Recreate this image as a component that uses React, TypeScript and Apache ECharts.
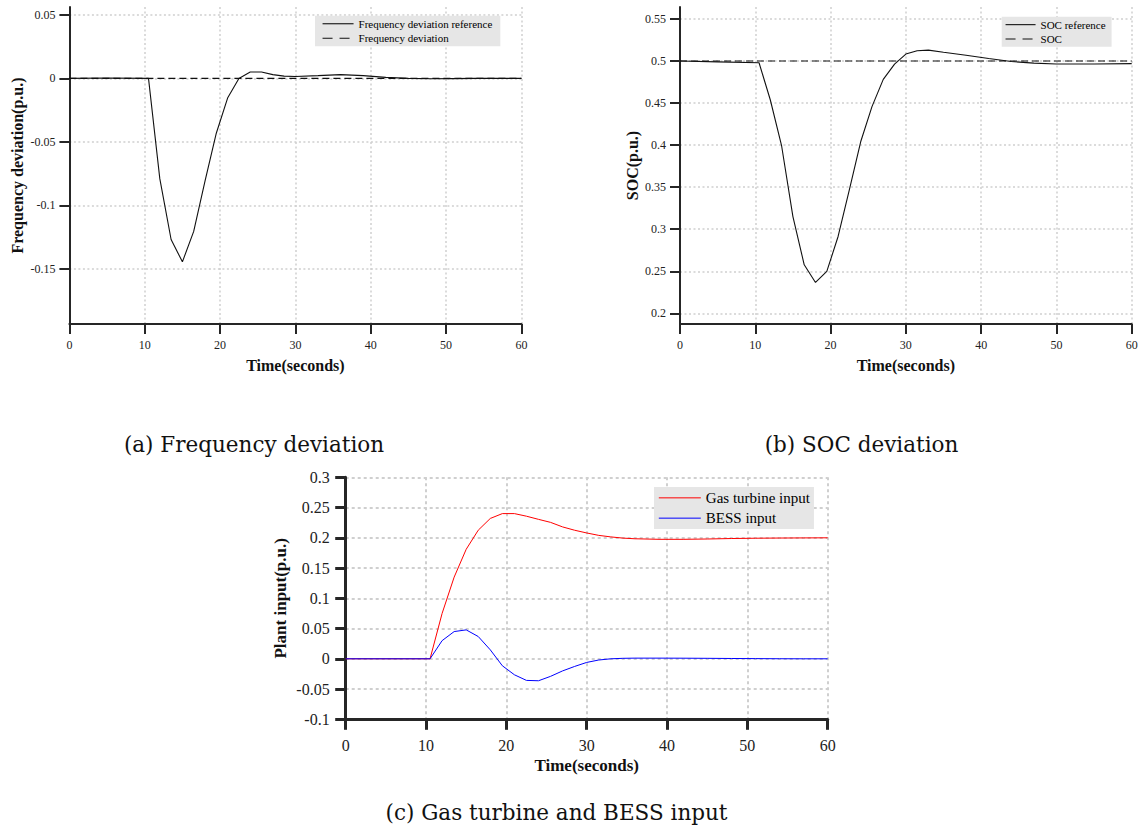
import React, { useEffect, useRef } from "react";
import * as echarts from "echarts";

// ---------- data ----------
const timeTicks = [0, 10, 20, 30, 40, 50, 60];
const freqTicks = [-0.15, -0.1, -0.05, 0, 0.05];
const socTicks = [0.2, 0.25, 0.3, 0.35, 0.4, 0.45, 0.5, 0.55];

const freqRefTime = [0, 5, 10.5, 12, 13.5, 15, 16.5, 18, 19.5, 21, 22.5, 24, 25.5, 27, 28.5, 30, 33, 36, 39, 42, 45, 48, 51, 54, 60];
const freqRefValue = [0, 0.0003, 0, -0.079, -0.127, -0.1446, -0.1206, -0.081, -0.0432, -0.0155, 0, 0.005, 0.005, 0.003, 0.0018, 0.0015, 0.0022, 0.003, 0.0022, 0.0008, 0, -0.0003, -0.0002, 0, 0];
const freqTime = [0, 60];
const freqValue = [0, 0];

const socRefTime = [0, 5, 10.5, 12, 13.5, 15, 16.5, 18, 19.5, 21, 22.5, 24, 25.5, 27, 28.5, 30, 31.5, 33, 35, 38, 41, 44, 47, 50, 55, 60];
const socRefValue = [0.5, 0.499, 0.498, 0.4537, 0.399, 0.315, 0.2577, 0.2367, 0.2498, 0.2914, 0.347, 0.404, 0.4458, 0.4782, 0.4964, 0.5083, 0.5123, 0.513, 0.5105, 0.507, 0.503, 0.4995, 0.4975, 0.4965, 0.4965, 0.497];
const socTime = [0, 60];
const socValue = [0.5, 0.5];

const plantTime = [0, 10.5, 12, 13.5, 15, 16.5, 18, 19.5, 21, 22.5, 24, 25.5, 27, 28.5, 30, 31.5, 33, 34.5, 36, 39, 42, 45, 48, 51, 54, 57, 60];
const gasTurbine = [0, 0, 0.075, 0.135, 0.181, 0.2126, 0.232, 0.24, 0.24, 0.2357, 0.2305, 0.2255, 0.218, 0.2125, 0.208, 0.204, 0.2015, 0.1995, 0.1984, 0.1975, 0.1975, 0.198, 0.1988, 0.1993, 0.1996, 0.1998, 0.2];
const bess = [0, 0, 0.03, 0.045, 0.0478, 0.0368, 0.0148, -0.0115, -0.0264, -0.0357, -0.0363, -0.029, -0.02, -0.0126, -0.006, -0.002, 0, 0.0008, 0.0011, 0.0011, 0.001, 0.0008, 0.0005, 0.0003, 0.0001, 0, 0];

const captions = ["(a) Frequency deviation", "(b) SOC deviation", "(c) Gas turbine and BESS input"];

const zip = (t: number[], v: number[]) => t.map((x, i) => [x, v[i]]);

const SERIF = "'Liberation Serif', 'Times New Roman', serif";
const AXIS = "#262626";

function xAxisCfg(gridIndex: number, big: boolean) {
  return {
    type: "value",
    gridIndex,
    min: 0,
    max: 60,
    interval: 10,
    name: "Time(seconds)",
    nameLocation: "middle",
    nameGap: big ? 38 : 33,
    nameTextStyle: { fontFamily: SERIF, fontWeight: "bold", fontSize: big ? 17 : 16, color: "#111" },
    axisLine: { show: true, onZero: false, lineStyle: { color: AXIS, width: big ? 3 : 2 } },
    axisTick: { show: true, inside: false, length: big ? 10.5 : 10, lineStyle: { color: AXIS, width: big ? 3 : 2 } },
    axisLabel: { margin: big ? 18 : 15, fontFamily: SERIF, fontSize: big ? 16 : 12, color: "#222", customValues: timeTicks },
    splitLine: { show: true, lineStyle: { color: "#cfcfcf", width: big ? 2 : 1.5, type: big ? [3, 3] : [2, 2.5] } },
  };
}

function yAxisCfg(gridIndex: number, name: string, min: number, max: number, ticks: number[] | null, big: boolean, nameGap: number) {
  const base: any = {
    type: "value",
    gridIndex,
    min,
    max,
    name,
    nameLocation: "middle",
    nameGap,
    nameTextStyle: { fontFamily: SERIF, fontWeight: "bold", fontSize: big ? 17 : 16, color: "#111" },
    axisLine: { show: true, onZero: false, lineStyle: { color: AXIS, width: big ? 3 : 2 } },
    axisTick: { show: true, inside: false, length: big ? 10.5 : 10, lineStyle: { color: AXIS, width: big ? 3 : 2 } },
    axisLabel: { margin: big ? 16 : 14, fontFamily: SERIF, fontSize: big ? 16 : 12, color: "#222" },
    splitLine: { show: true, lineStyle: { color: "#cfcfcf", width: big ? 2 : 1.5, type: big ? [3, 3] : [2, 2.5] } },
  };
  if (ticks) {
    base.axisLabel.customValues = ticks;
    base.axisTick.customValues = ticks;
  } else {
    base.interval = 0.05;
  }
  return base;
}

export default function App() {
  const ref = useRef<HTMLDivElement>(null);
  useEffect(() => {
    if (!ref.current) return;
    const chart = echarts.init(ref.current, null, { renderer: "svg" });
    const legendText = (size: number, lh: number) => ({ fontFamily: SERIF, fontSize: size, color: "#000", lineHeight: lh });
    const hiddenSymbol = { opacity: 0, borderWidth: 0 };
    const dashedIcon = { type: [10, 7], width: 1.1 };
    chart.setOption({
      animation: false,
      backgroundColor: "#fff",
      grid: [
        { left: 69.4, top: 7, width: 452, height: 317 },
        { left: 680, top: 7, width: 451.7, height: 317 },
        { left: 345.7, top: 477.3, width: 482, height: 242 },
      ],
      xAxis: [xAxisCfg(0, false), xAxisCfg(1, false), xAxisCfg(2, true)],
      yAxis: [
        yAxisCfg(0, "Frequency deviation(p.u.)", -0.1936, 0.0563, freqTicks, false, 44),
        yAxisCfg(1, "SOC(p.u.)", 0.1873, 0.5643, socTicks, false, 40),
        yAxisCfg(2, "Plant input(p.u.)", -0.1, 0.3, null, true, 57),
      ],
      legend: [
        {
          data: [{ name: "Frequency deviation reference" }, { name: "Frequency deviation", lineStyle: dashedIcon }],
          orient: "vertical", left: 315, top: 15.8, itemWidth: 31, itemHeight: 8, itemGap: 0,
          padding: [0.7, 8, 0.7, 7], backgroundColor: "#e6e6e6", selectedMode: false,
          itemStyle: hiddenSymbol, lineStyle: { width: 1.1 },
          textStyle: legendText(11, 14.5),
        },
        {
          data: [{ name: "SOC reference" }, { name: "SOC", lineStyle: dashedIcon }],
          orient: "vertical", left: 1001.7, top: 16.8, itemWidth: 30, itemHeight: 8, itemGap: 0,
          padding: [0.7, 6, 0.7, 3.3], backgroundColor: "#e6e6e6", selectedMode: false,
          itemStyle: hiddenSymbol, lineStyle: { width: 1.1 },
          textStyle: legendText(11, 14.3),
        },
        {
          data: ["Gas turbine input", "BESS input"],
          orient: "vertical", left: 654, top: 487, itemWidth: 42, itemHeight: 10, itemGap: 0,
          padding: [0.7, 4, 0.7, 4.3], backgroundColor: "#e6e6e6", selectedMode: false,
          itemStyle: hiddenSymbol, lineStyle: { width: 1 },
          textStyle: legendText(15, 20.3),
        },
      ],
      series: [
        { name: "Frequency deviation reference", type: "line", xAxisIndex: 0, yAxisIndex: 0, symbol: "none", data: zip(freqRefTime, freqRefValue), lineStyle: { color: "#111", width: 1.1 }, itemStyle: { color: "#111" } },
        { name: "Frequency deviation", type: "line", xAxisIndex: 0, yAxisIndex: 0, symbol: "none", data: zip(freqTime, freqValue), lineStyle: { color: "#111", width: 1.1, type: [7, 4] }, itemStyle: { color: "#111" } },
        { name: "SOC reference", type: "line", xAxisIndex: 1, yAxisIndex: 1, symbol: "none", data: zip(socRefTime, socRefValue), lineStyle: { color: "#111", width: 1.1 }, itemStyle: { color: "#111" } },
        { name: "SOC", type: "line", xAxisIndex: 1, yAxisIndex: 1, symbol: "none", data: zip(socTime, socValue), lineStyle: { color: "#111", width: 1.1, type: [7, 4] }, itemStyle: { color: "#111" } },
        { name: "Gas turbine input", type: "line", xAxisIndex: 2, yAxisIndex: 2, symbol: "none", data: zip(plantTime, gasTurbine), lineStyle: { color: "#ff0000", width: 1 }, itemStyle: { color: "#ff0000" } },
        { name: "BESS input", type: "line", xAxisIndex: 2, yAxisIndex: 2, symbol: "none", data: zip(plantTime, bess), lineStyle: { color: "#0000ff", width: 1 }, itemStyle: { color: "#0000ff" } },
      ],
      graphic: [
        { type: "text", x: 254, y: 444, style: { text: captions[0], fontFamily: "'DejaVu Serif', serif", fontSize: 21.5, fill: "#111", align: "center", verticalAlign: "middle" } },
        { type: "text", x: 861.5, y: 444, style: { text: captions[1], fontFamily: "'DejaVu Serif', serif", fontSize: 21.5, fill: "#111", align: "center", verticalAlign: "middle" } },
        { type: "text", x: 556.5, y: 812, style: { text: captions[2], fontFamily: "'DejaVu Serif', serif", fontSize: 21.5, fill: "#111", align: "center", verticalAlign: "middle" } },
      ],
    });
    return () => chart.dispose();
  }, []);
  return <div ref={ref} style={{ position: "absolute", left: 0, top: 0, width: 1146, height: 828 }} />;
}
